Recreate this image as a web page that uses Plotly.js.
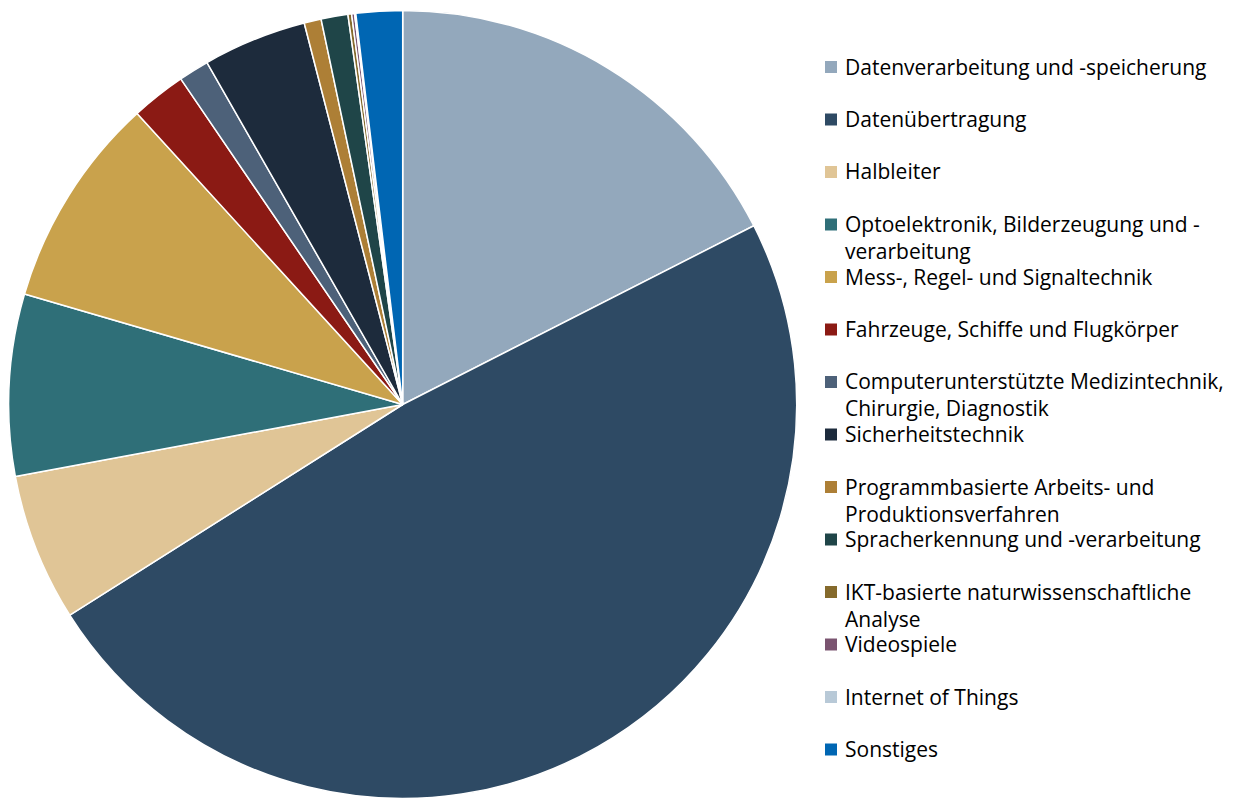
<!DOCTYPE html>
<html>
<head>
<meta charset="utf-8">
<script src="https://cdn.plot.ly/plotly-3.0.1.min.js"></script>
<style>html,body{margin:0;padding:0;overflow:hidden;background:#fff;}#chart{width:1240px;height:800px;}</style>
</head>
<body>
<div id="chart"></div>
<script>
const labels = [
  "Datenverarbeitung und -speicherung",
  "Datenübertragung",
  "Halbleiter",
  "Optoelektronik, Bilderzeugung und -verarbeitung",
  "Mess-, Regel- und Signaltechnik",
  "Fahrzeuge, Schiffe und Flugkörper",
  "Computerunterstützte Medizintechnik, Chirurgie, Diagnostik",
  "Sicherheitstechnik",
  "Programmbasierte Arbeits- und Produktionsverfahren",
  "Spracherkennung und -verarbeitung",
  "IKT-basierte naturwissenschaftliche Analyse",
  "Videospiele",
  "Internet of Things",
  "Sonstiges"
];
const legendText = [
  "Datenverarbeitung und -speicherung",
  "Datenübertragung",
  "Halbleiter",
  "Optoelektronik, Bilderzeugung und -<br>verarbeitung",
  "Mess-, Regel- und Signaltechnik",
  "Fahrzeuge, Schiffe und Flugkörper",
  "Computerunterstützte Medizintechnik,<br>Chirurgie, Diagnostik",
  "Sicherheitstechnik",
  "Programmbasierte Arbeits- und<br>Produktionsverfahren",
  "Spracherkennung und -verarbeitung",
  "IKT-basierte naturwissenschaftliche<br>Analyse",
  "Videospiele",
  "Internet of Things",
  "Sonstiges"
];
const values = [17.5, 48.5, 6.05, 7.45, 8.7, 2.25, 1.25, 4.25, 0.7, 1.1, 0.15, 0.12, 0.05, 1.9];
const colors = ["#93a8bc","#2e4a64","#e0c596","#2f6f78","#c9a24c","#8b1a14","#4d6179","#1d2b3c","#ad7f36","#1f4548","#856a2c","#7a5470","#b8c9d7","#0066b3"];

const W = 1240, H = 800;
const fontFam = "'Open Sans', 'Noto Sans', sans-serif";
const fs = 21;
const annotations = [], shapes = [];
labels.forEach((l, i) => {
  const yc = 67 + 52.5 * i;
  shapes.push({type:"rect", xref:"paper", yref:"paper",
    x0: 825/W, x1: 837/W, y0: 1 - (yc + 6)/H, y1: 1 - (yc - 6)/H,
    fillcolor: colors[i], line:{width:0}});
  annotations.push({xref:"paper", yref:"paper", x: 843/W, y: 1 - (yc - 16.5)/H,
    xanchor:"left", yanchor:"top", align:"left", showarrow:false,
    text: legendText[i], font:{family: fontFam, size: fs, color:"#000"}});
});

const trace = {
  type: "pie", labels: labels, values: values, sort: false,
  direction: "clockwise", rotation: 0, textinfo: "none",
  marker: {colors: colors, line: {color: "#ffffff", width: 1.5}},
  domain: {x: [8.7/W, 796.7/W], y: [1.5/H, 789.5/H]},
  hoverinfo: "label+percent"
};
Plotly.newPlot("chart", [trace], {
  width: W, height: H, margin: {l:0, r:0, t:0, b:0},
  showlegend: false, paper_bgcolor: "#fff",
  annotations: annotations, shapes: shapes
}, {displayModeBar: false, staticPlot: true});
</script>
</body>
</html>
